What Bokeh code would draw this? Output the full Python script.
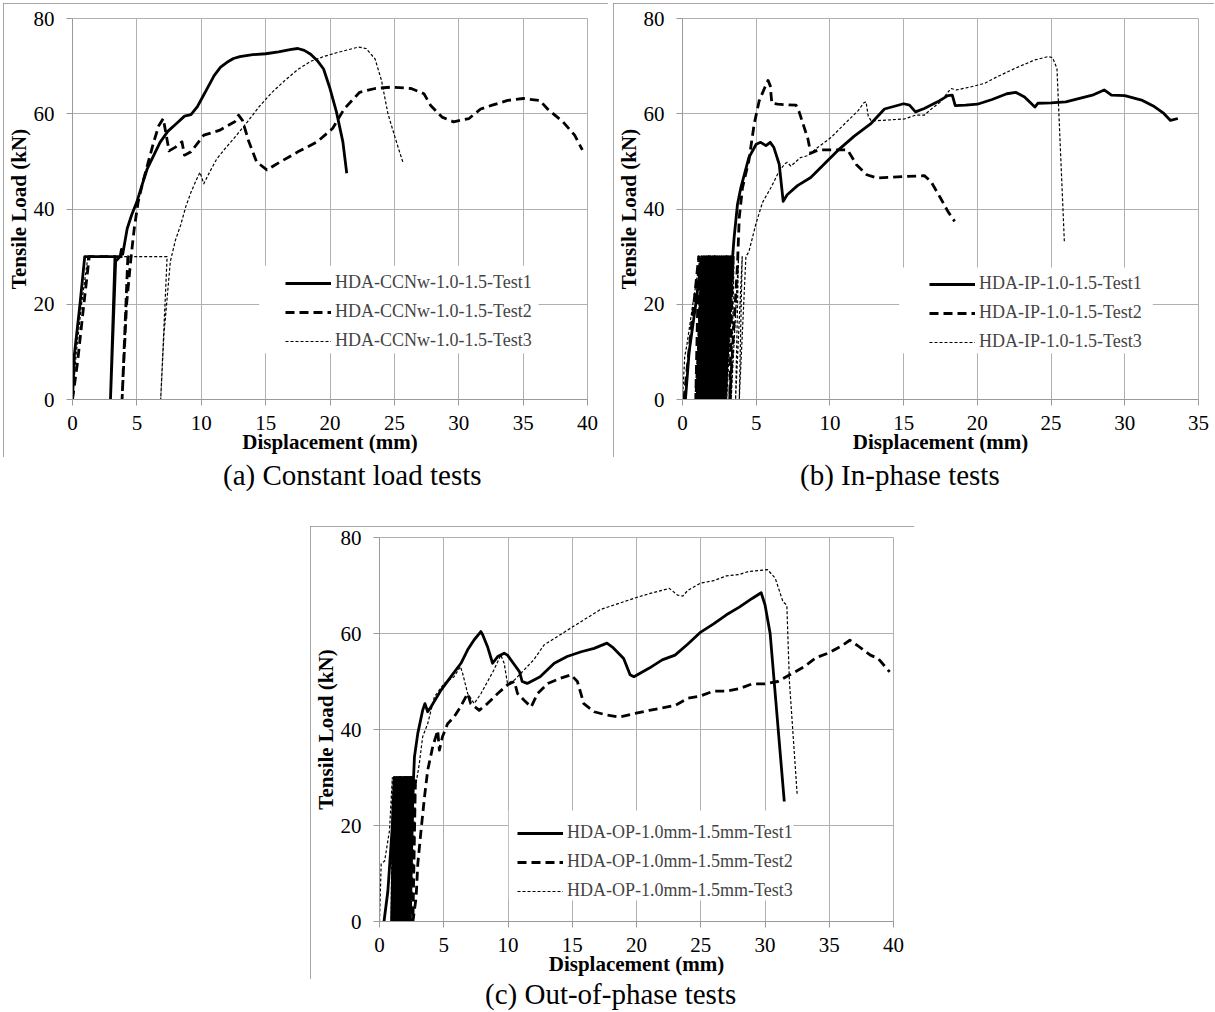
from bokeh.plotting import figure
from bokeh.models import (Range1d, FixedTicker, Legend, LegendItem, BoxAnnotation, Div, Spacer)
from bokeh.layouts import row, column
from bokeh.embed import file_html
from bokeh.resources import INLINE

# ---------------- data: (a) Constant load tests ----------------
a_labels = ["HDA-CCNw-1.0-1.5-Test1", "HDA-CCNw-1.0-1.5-Test2", "HDA-CCNw-1.0-1.5-Test3"]
a_t1_x = [0, 0.15, 0.6, 0.95, 3.3, 2.95, 3.35, 3.7, 3.8, 3.9, 4.25, 4.6, 5.0, 5.4, 5.8, 6.3, 6.8, 7.4, 8.1, 8.7,
          9.2, 9.7, 10.0, 10.5, 11.0, 11.5, 12.0, 12.5, 13.0, 14.0, 15.0, 16.0, 17.0, 17.5, 18.0, 18.5, 19.0, 19.5,
          20.0, 20.5, 21.0, 21.3]
a_t1_y = [0, 9.5, 20.5, 30, 30, 0, 29, 30, 31.5, 30.5, 35.9, 38.8, 41.5, 45, 48.4, 51.2, 54, 56.3, 58, 59.5,
          59.8, 61.5, 63, 65.5, 68, 69.8, 70.8, 71.6, 72, 72.4, 72.6, 73, 73.5, 73.7, 73.3, 72.5, 71.2, 69.4,
          65.3, 60.4, 54.1, 47.5]
a_t2_x = [0, 0.4, 0.8, 1.3, 4.3, 3.85, 4.2, 4.55, 4.8, 5.1, 5.5, 5.9, 6.3, 6.7, 7.05, 7.15, 7.5, 8.0, 8.5, 8.7,
          9.2, 10.2, 11.4, 12.6, 12.9, 13.2, 13.7, 14.3, 15.1, 15.7, 17.5, 19.0, 20.2, 21.1, 22.3, 23.5, 24.8,
          26.3, 27.3, 27.8, 28.7, 29.6, 30.8, 31.7, 32.6, 33.8, 35.0, 36.3, 36.9, 38.1, 39.0, 39.6]
a_t2_y = [0, 8, 18, 30, 30, 0, 20, 30, 36, 41.5, 46, 50, 54, 57.5, 59, 57.5, 52.2, 53, 54.1, 51.3,
          52, 55.5, 56.5, 58.3, 59.7, 58.6, 54.1, 49.9, 48.2, 49.2, 52, 54.1, 56.9, 61, 64.5, 65.3, 65.6,
          65.3, 64.2, 61.8, 59.3, 58.3, 59, 61, 61.8, 62.8, 63.2, 62.8, 61, 58.3, 55.5, 52.4]
a_t3_x = [0, 0.3, 0.7, 1.2, 7.35, 6.85, 7.1, 7.6, 8.0, 8.4, 8.8, 9.2, 9.6, 9.9, 10.2, 10.7, 11.2, 11.8, 12.5,
          13.5, 14.5, 15.5, 16.5, 17.5, 18.5, 19.5, 20.5, 21.5, 22.2, 22.8, 23.5, 24.0, 24.5, 25.0, 25.4, 25.7]
a_t3_y = [0, 10, 20, 30, 30, 0, 13.6, 29, 33.5, 36.6, 40.5, 43.5, 46, 47.7, 45.3, 48, 50.5, 52.5, 54.7,
          58, 61.5, 64.5, 67, 69.3, 71, 72, 72.8, 73.5, 74, 73.7, 71.5, 67, 60, 55.5, 52, 49.5]

# ---------------- data: (b) In-phase tests ----------------
b_labels = ["HDA-IP-1.0-1.5-Test1", "HDA-IP-1.0-1.5-Test2", "HDA-IP-1.0-1.5-Test3"]
b_t1_x = [0.2, 0.45, 0.9, 1.3, 1.0, 1.45, 1.1, 1.6, 1.25, 1.75, 1.4, 1.9, 1.55, 2.05, 1.7, 2.2, 1.85, 2.35,
          2.0, 2.5, 2.15, 2.65, 2.3, 2.8, 2.45, 2.95, 2.6, 3.1, 2.75, 3.25, 2.9, 3.4,
          3.5, 3.73, 3.96, 4.5, 5.0, 5.3, 5.66, 5.95, 6.2, 6.56, 6.83, 7.1, 7.8, 8.7, 9.6, 10.5, 11.65,
          12.8, 13.7, 15.0, 15.4, 15.8, 16.4, 17.3, 18.0, 18.3, 18.5, 19.2, 20.0, 21.0, 22.0, 22.6, 23.2,
          23.9, 24.1, 25.0, 26.0, 27.0, 27.8, 28.6, 29.1, 30.0, 31.2, 32.0, 32.6, 33.1, 33.6]
b_t1_y = [0, 10, 20, 30, 0, 30, 0, 30, 0, 30, 0, 30, 0, 30, 0, 30, 0, 30,
          0, 30, 0, 30, 0, 30, 0, 30, 0, 30, 0, 30, 0, 30,
          34, 41, 44.5, 50.8, 53.6, 54, 53.3, 54, 52.9, 49.4, 41.6, 43, 44.9, 46.6, 49.4, 52.2, 55.3,
          58, 61, 62.1, 61.8, 60.4, 61.1, 62.5, 63.8, 63.9, 61.7, 61.8, 62, 63, 64.2, 64.5, 63.5,
          61.4, 62.2, 62.3, 62.5, 63.3, 63.9, 65, 63.9, 63.8, 62.8, 61.5, 60.2, 58.6, 59]
b_t2_x = [0.1, 0.5, 1.1, 0.9, 1.4, 1.2, 1.8, 1.6, 2.2, 2.0, 2.6, 2.4, 3.0, 2.8, 3.4, 3.2,
          3.73, 3.85, 4.07, 4.5, 4.86, 5.2, 5.54, 5.8, 5.95, 6.06, 6.45, 7.7, 7.9, 8.5, 8.7, 9.2, 11.2,
          11.8, 12.5, 13.2, 15.0, 16.4, 16.85, 17.5, 18.0, 18.46]
b_t2_y = [0, 12, 30, 0, 30, 0, 30, 0, 30, 0, 30, 0, 30, 0, 30, 0,
          28.4, 38.2, 44.5, 50.1, 57.8, 62.7, 65.2, 67, 65.9, 62.2, 62, 61.8, 60.5, 54.8, 51.7, 52.4, 52.4,
          49.3, 47.2, 46.5, 46.8, 47, 45.8, 42.3, 39.5, 37.4]
b_t3_x = [0, 0.15, 0.3, 0.7, 1.2, 0.95, 1.6, 1.4, 2.0, 1.8, 2.4, 2.2, 2.8, 2.6, 3.2, 3.0, 3.5, 3.3, 3.8,
          3.6, 4.05, 3.85, 4.3, 4.5, 4.64, 4.98, 5.43, 6.0, 6.45, 6.9, 7.1, 7.35, 8.0, 8.5, 9.16, 10.07,
          10.97, 11.9, 12.3, 12.45, 12.6, 12.8, 13.5, 14.5, 15.05, 15.8, 16.4, 16.8, 17.5, 18.2, 18.6,
          19.5, 20.5, 21.3, 22.6, 23.9, 24.8, 25.1, 25.4, 25.9]
b_t3_y = [0, 9, 11.5, 20, 30, 0, 30, 0, 30, 0, 30, 0, 30, 0, 30, 0, 30, 0, 30,
          0, 30, 0, 30, 31, 32.7, 36.9, 41.4, 44.5, 47.3, 49.4, 49.8, 49, 50.8, 51.2, 52.9, 55,
          57.8, 60.6, 62.3, 62.5, 59.5, 58.5, 58.6, 58.8, 58.9, 59.7, 59.7, 60.8, 62.5, 65.3, 65,
          65.6, 66.4, 67.7, 69.6, 71.3, 72, 71.8, 69.5, 33.2]

# ---------------- data: (c) Out-of-phase tests ----------------
c_labels = ["HDA-OP-1.0mm-1.5mm-Test1", "HDA-OP-1.0mm-1.5mm-Test2", "HDA-OP-1.0mm-1.5mm-Test3"]
c_t1_x = [0.35, 0.65, 1.0, 1.15, 0.95, 1.3, 1.1, 1.45, 1.25, 1.6, 1.4, 1.75, 1.55, 1.9, 1.7, 2.05, 1.85,
          2.2, 2.0, 2.35, 2.15, 2.5, 2.3, 2.65, 2.72, 2.98, 3.36, 3.54, 3.75, 4.0, 4.79, 5.56, 6.34, 6.86,
          7.37, 7.89, 8.02, 8.4, 8.8, 9.2, 9.7, 9.96, 10.5, 10.9, 11.1, 11.5, 12.5, 13.6, 14.6, 15.7,
          16.7, 17.7, 18.2, 19.0, 19.5, 19.8, 21.0, 22.0, 23.0, 24.0, 25.0, 26.0, 27.0, 28.0, 29.0,
          29.7, 30.0, 30.4, 31.5]
c_t1_y = [0, 6.3, 20, 30, 0, 30, 0, 30, 0, 30, 0, 30, 0, 30, 0, 30, 0,
          30, 0, 30, 0, 30, 0, 30, 34.3, 39.2, 44, 45.4, 43.7, 44.7, 48.2, 51, 53.8, 56.6,
          58.7, 60.4, 59.8, 57.3, 53.8, 55.2, 55.9, 55.5, 53.5, 52, 50, 49.6, 51, 53.8, 55.2, 56.2,
          56.9, 58, 57, 54.8, 51.4, 51, 52.8, 54.5, 55.5, 57.8, 60.3, 62, 63.9, 65.5, 67.3,
          68.5, 66, 60, 25]
c_t2_x = [1.0, 1.3, 1.6, 1.4, 1.8, 1.6, 2.0, 1.8, 2.2, 2.0, 2.4, 2.2, 2.6, 2.4, 2.8, 2.6, 2.85, 2.98,
          3.23, 3.5, 3.75, 4.14, 4.53, 4.66, 4.9, 5.3, 5.8, 6.3, 6.86, 7.1, 7.76, 8.4, 9.2, 9.96, 10.5,
          10.74, 11.25, 11.8, 12.3, 13.1, 14.1, 14.9, 15.4, 15.9, 16.7, 17.7, 18.7, 19.8, 21.0, 22.0,
          23.0, 24.0, 25.0, 26.0, 27.0, 28.0, 29.0, 30.0, 31.0, 32.0, 33.0, 34.0, 35.0, 36.0, 36.6,
          37.2, 38.2, 38.8, 39.7]
c_t2_y = [0, 8, 30, 0, 30, 0, 30, 0, 30, 0, 30, 0, 30, 0, 30, 0, 5, 12,
          18.9, 25.9, 31.5, 36.4, 39.8, 35.7, 38.5, 41.2, 42.6, 44.7, 47.5, 45.4, 44, 45.4, 47.5, 49.3, 50,
          47.5, 46.1, 44.7, 47.5, 49.6, 50.7, 51.4, 50, 45.4, 43.7, 43, 42.6, 43.3, 44, 44.5,
          45, 46.5, 47, 48, 48, 48.5, 49.5, 49.5, 50, 51.5, 53, 55, 56, 57.5, 58.6,
          57.5, 55.5, 54.8, 52]
c_t3_x = [0, 0.13, 0.4, 0.78, 1.0, 0.9, 1.2, 1.05, 1.4, 1.25, 1.6, 1.45, 1.8, 1.65, 2.0, 1.85, 2.2, 2.05,
          2.4, 2.25, 2.6, 2.8, 3.1, 3.36, 3.75, 4.27, 5.04, 5.8, 6.3, 6.47, 6.86, 7.37, 7.9, 8.9, 9.44,
          9.7, 9.96, 10.5, 11.25, 12.0, 12.8, 14.1, 15.1, 17.2, 20.0, 21.0, 22.0, 22.55, 23.2, 23.6,
          24.0, 25.0, 26.0, 27.0, 28.0, 28.7, 30.2, 30.8, 31.4, 31.7, 31.9, 32.5]
c_t3_y = [0, 12, 12.6, 19, 30, 0, 30, 0, 30, 0, 30, 0, 30, 0, 30, 0, 30, 0,
          30, 0, 30, 28, 32.9, 38.5, 41.2, 46.8, 49.6, 51, 53.1, 51.7, 47.5, 45.4, 47.5, 52.4, 55.5,
          53.8, 49.6, 50.3, 52.4, 54.5, 57.6, 59.8, 61.5, 65, 67.5, 68.3, 69, 69.4, 68, 67.8,
          69, 70.5, 71, 72, 72.3, 72.9, 73.3, 71.5, 66.6, 65.9, 50, 26.6]

captions = ["(a) Constant load tests", "(b) In-phase tests", "(c) Out-of-phase tests"]
y_ticks = [0, 20, 40, 60, 80]

SERIF = "Liberation Serif"
GRID = "#b0b0b0"
AXIS = "#9a9a9a"


def make_panel(width, height, xmax, borders, series, labels, legend_loc, box):
    left, right, top, bottom = borders
    p = figure(width=width, height=height, x_range=Range1d(0, xmax), y_range=Range1d(0, 80),
               output_backend="svg", toolbar_location=None,
               min_border_left=left, min_border_right=right, min_border_top=top, min_border_bottom=bottom,
               background_fill_color="white", border_fill_color="white")
    p.outline_line_color = GRID
    p.outline_line_width = 1
    p.xaxis.ticker = FixedTicker(ticks=list(range(0, xmax + 1, 5)))
    p.yaxis.ticker = FixedTicker(ticks=y_ticks)
    for ax in (p.xaxis[0], p.yaxis[0]):
        ax.axis_line_color = AXIS
        ax.major_tick_line_color = AXIS
        ax.major_tick_out = 6
        ax.major_tick_in = 0
        ax.minor_tick_line_color = None
        ax.major_label_text_font = SERIF
        ax.major_label_text_font_size = "21px"
        ax.major_label_text_color = "black"
        ax.axis_label_text_font = SERIF
        ax.axis_label_text_font_size = "21px"
        ax.axis_label_text_font_style = "bold"
        ax.axis_label_text_color = "black"
    p.xaxis.major_label_standoff = 10
    p.xaxis.axis_label_standoff = -3
    p.yaxis.major_label_standoff = 12
    p.yaxis.axis_label_standoff = 0
    p.xaxis.axis_label = "Displacement (mm)"
    p.yaxis.axis_label = "Tensile Load (kN)"
    p.xgrid.grid_line_color = GRID
    p.ygrid.grid_line_color = GRID

    bx = BoxAnnotation(left=box[0], right=box[1], bottom=box[2], top=box[3],
                       fill_color="white", fill_alpha=1, line_color=None, level="underlay")
    p.add_layout(bx)

    styles = [dict(line_width=2.8, line_dash="solid"),
              dict(line_width=2.8, line_dash="9 5"),
              dict(line_width=1.2, line_dash="3 2")]
    items = []
    for (xs, ys), st, lab in zip(series, styles, labels):
        r = p.line(xs, ys, line_color="black", line_join="round", **st)
        items.append(LegendItem(label=lab, renderers=[r]))
    leg = Legend(items=items, location=legend_loc, padding=6, spacing=8, margin=0,
                 label_height=20, glyph_height=20, glyph_width=46, label_standoff=4,
                 background_fill_color="white", background_fill_alpha=0, border_line_color=None,
                 label_text_font=SERIF, label_text_font_size="18px")
    p.add_layout(leg)
    p.styles = {"outline": "2px solid #8a8a8a", "outline-offset": "-2px"}
    return p


pa = make_panel(605, 454, 40, (68, 21, 15, 58),
                [(a_t1_x, a_t1_y), (a_t2_x, a_t2_y), (a_t3_x, a_t3_y)], a_labels,
                (213, 48), (14.5, 36.2, 9.7, 28.1))
pb = make_panel(601, 454, 35, (69, 16, 15, 58),
                [(b_t1_x, b_t1_y), (b_t2_x, b_t2_y), (b_t3_x, b_t3_y)], b_labels,
                (247, 47), (14.7, 31.9, 9.7, 27.7))
pc = make_panel(604, 453, 40, (66, 21, 11, 58),
                [(c_t1_x, c_t1_y), (c_t2_x, c_t2_y), (c_t3_x, c_t3_y)], c_labels,
                (138, 20), (10.06, 32.2, 4.4, 23.1))

cap_style = "position:absolute;white-space:nowrap;line-height:33px;"
cap1 = Div(width=1215, height=69, margin=0, text=(
    '<div style="position:relative;width:1215px;height:69px;font-family:\'Liberation Serif\';'
    'font-size:29px;color:#000;">'
    f'<span style="{cap_style}left:223px;top:2px;">{captions[0]}</span>'
    f'<span style="{cap_style}left:800px;top:2px;">{captions[1]}</span></div>'))
cap2 = Div(width=1215, height=31, margin=0, text=(
    '<div style="position:relative;width:1215px;height:31px;font-family:\'Liberation Serif\';'
    'font-size:29px;color:#000;">'
    f'<span style="{cap_style}left:485px;top:-1px;">{captions[2]}</span></div>'))

layout = column(Spacer(width=1214, height=3),
                row(Spacer(width=3, height=454), pa, Spacer(width=5, height=454), pb),
                cap1,
                row(Spacer(width=310, height=453), pc),
                cap2)

open("out.html", "w").write(file_html(layout, INLINE))
